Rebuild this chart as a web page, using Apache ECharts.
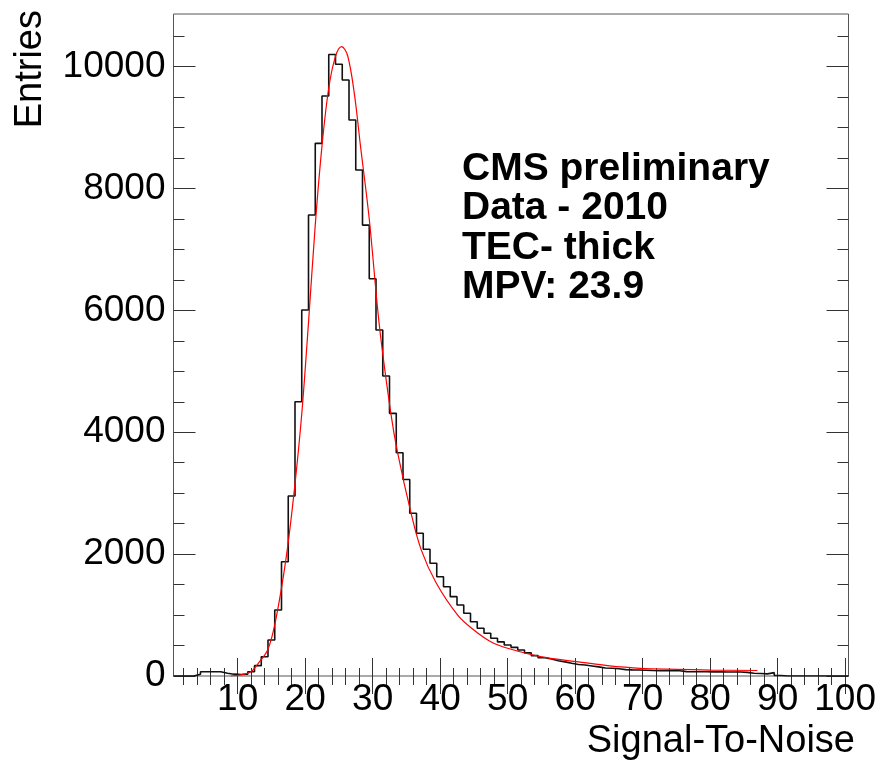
<!DOCTYPE html>
<html><head><meta charset="utf-8">
<script src="https://cdn.jsdelivr.net/npm/echarts@6/dist/echarts.min.js"></script>
<style>html,body{margin:0;padding:0;background:#fff}#c{width:883px;height:765px}</style>
</head><body><div id="c"></div>
<script>
// ---- data ----
const binCenters = [1,2,3,4,5,6,7,8,9,10,11,12,13,14,15,16,17,18,19,20,21,22,23,24,25,26,27,28,29,30,
  31,32,33,34,35,36,37,38,39,40,41,42,43,44,45,46,47,48,49,50,51,52,53,54,55,56,57,58,59,60,
  61,62,63,64,65,66,67,68,69,70,71,72,73,74,75,76,77,78,79,80,81,82,83,84,85,86,87,88,89,90,
  91,92,93,94,95,96,97,98,99,100];
const counts = [0,0,0,30,70,70,70,45,30,25,30,70,170,317,591,1083,1876,2954,4502,6007,
  7566,8742,9519,10200,10040,9782,9125,8305,7400,6520,5679,4924,4311,3665,3225,2670,2342,2080,1850,1630,
  1466,1302,1165,1029,891,783,701,620,560,509,470,427,380,335,300,280,250,232,208,190,
  180,165,150,132,126,120,105,100,98,95,90,87,87,87,85,72,70,70,70,68,
  68,66,65,65,60,44,40,35,55,8,0,0,0,0,0,0,0,0,0,0];
const fitX = [9,10.5,12,13,14.5,15.7,17.2,18.4,19.5,20.5,21.5,22.5,23.5,24.5,25.4,26.3,27.3,28.2,29.5,31,
  32.7,33.7,35.7,37.2,39.4,42.6,45,47.5,50,54.9,59.8,64.8,69.7,75,80,87];
const fitY = [0,20,70,200,440,950,1950,3050,4300,5800,7400,8700,9650,10170,10330,10180,9550,8700,7500,5750,
  4310,3665,2670,2070,1530,1000,755,563,455,317,240,170,126,110,98,90];
const xMajorTicks = [10,20,30,40,50,60,70,80,90,100];
const xMinorTicks = [2,4,6,8,12,14,16,18,22,24,26,28,32,34,36,38,42,44,46,48,52,54,56,58,
  62,64,66,68,72,74,76,78,82,84,86,88,92,94,96,98];
const yMajorTicks = [0,2000,4000,6000,8000,10000];
const yMinorTicks = [500,1000,1500,2500,3000,3500,4500,5000,5500,6500,7000,7500,8500,9000,9500,10500];
const xTitle = 'Signal-To-Noise';
const yTitle = 'Entries';
const annotation = ['CMS preliminary', 'Data - 2010', 'TEC- thick', 'MPV: 23.9'];

// ---- chart ----
const FONT = '"Liberation Sans", Arial, Helvetica, sans-serif';
const X_MIN = 0.5, X_MAX = 100.5, Y_MIN = 0, Y_MAX = 10865;
const histData = binCenters.map((c, i) => [c - 0.5, counts[i]]);
histData.push([binCenters[binCenters.length - 1] + 0.5, counts[counts.length - 1]]);
const fitData = fitX.map((x, i) => [x, fitY[i]]);
const plain = v => String(v);

function xAx(pos, vals, len, withLabels) {
  return {
    type: 'value', position: pos, min: X_MIN, max: X_MAX,
    splitLine: { show: false }, axisLine: { show: false },
    axisTick: { show: true, inside: true, length: len, customValues: vals, lineStyle: { color: '#333', width: 1 } },
    axisLabel: withLabels ? { show: true, customValues: vals, formatter: plain, margin: 5, fontSize: 37, fontFamily: FONT, color: '#000' } : { show: false }
  };
}
function yAx(pos, vals, len, withLabels) {
  return {
    type: 'value', position: pos, min: Y_MIN, max: Y_MAX,
    splitLine: { show: false }, axisLine: { show: false },
    axisTick: { show: true, inside: true, length: len, customValues: vals, lineStyle: { color: '#333', width: 1 } },
    axisLabel: withLabels ? { show: true, customValues: vals, formatter: plain, margin: 8, fontSize: 37, fontFamily: FONT, color: '#000' } : { show: false }
  };
}

const chart = echarts.init(document.getElementById('c'), null, { renderer: 'canvas' });
chart.setOption({
  animation: false,
  backgroundColor: '#fff',
  grid: { left: 173.5, right: 34.5, top: 14, bottom: 89, show: true, borderColor: '#555', borderWidth: 1, backgroundColor: 'transparent' },
  xAxis: [
    xAx('bottom', xMajorTicks, 18, true),
    xAx('bottom', xMinorTicks, 8, false),
    xAx('top', xMajorTicks, 18, false),
    xAx('top', xMinorTicks, 9, false)
  ],
  yAxis: [
    yAx('left', yMajorTicks, 22, true),
    yAx('left', yMinorTicks, 11, false),
    yAx('right', yMajorTicks, 22, false),
    yAx('right', yMinorTicks, 11, false)
  ],
  series: [
    {
      type: 'line', name: 'data', xAxisIndex: 0, yAxisIndex: 0, step: 'end',
      data: histData, showSymbol: false, symbol: 'none',
      lineStyle: { color: '#111', width: 1.6 }, z: 3
    },
    {
      type: 'line', name: 'fit', xAxisIndex: 0, yAxisIndex: 0, smooth: 0.35,
      data: fitData, showSymbol: false, symbol: 'none',
      lineStyle: { color: '#ff0000', width: 1.2 }, z: 4
    }
  ],
  graphic: [
    { type: 'text', x: 855, y: 742, style: { text: xTitle, font: '38px ' + FONT, fill: '#000', align: 'right', verticalAlign: 'middle' } },
    { type: 'text', x: 31, y: 10, rotation: Math.PI / 2, style: { text: yTitle, font: '38px ' + FONT, fill: '#000', align: 'right', verticalAlign: 'middle' } }
  ].concat(annotation.map((t, i) => ({
    type: 'text', x: 462, y: 169 + i * 39.5,
    style: { text: t, font: 'bold 39px ' + FONT, fill: '#000', align: 'left', verticalAlign: 'middle' }
  })))
});
</script>
</body></html>
